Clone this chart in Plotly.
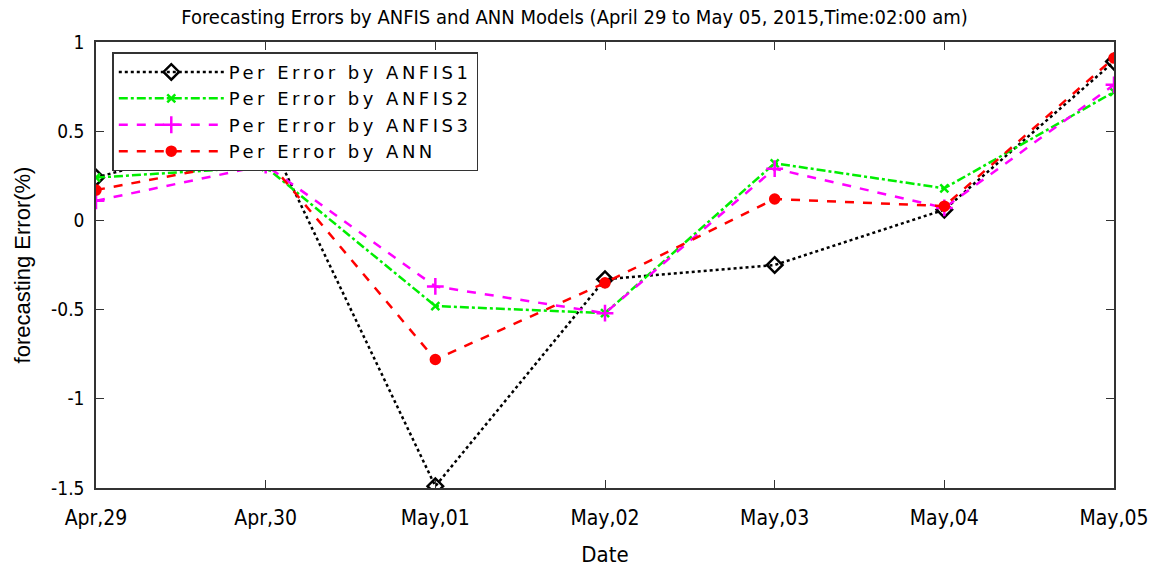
import plotly.graph_objects as go

dates = ["Apr,29", "Apr,30", "May,01", "May,02", "May,03", "May,04", "May,05"]
anfis1 = [0.24, 0.50, -1.49, -0.33, -0.25, 0.06, 0.89]
anfis2 = [0.24, 0.30, -0.48, -0.52, 0.32, 0.18, 0.72]
anfis3 = [0.11, 0.31, -0.37, -0.52, 0.29, 0.07, 0.76]
ann = [0.17, 0.35, -0.78, -0.35, 0.12, 0.08, 0.91]
names = ["Per Error by ANFIS1", "Per Error by ANFIS2", "Per Error by ANFIS3", "Per Error by ANN"]
yticks = [1, 0.5, 0, -0.5, -1, -1.5]
ytick_text = ["1", "0.5", "0", "-0.5", "-1", "-1.5"]

cond = "DejaVu Sans Condensed, Liberation Sans, Arial, sans-serif"
sans = "Liberation Sans, Arial, sans-serif"

x = list(range(len(dates)))
fig = go.Figure()
styles = [
    ("black", "dot", "diamond-open", 12),
    ("#00ee00", "dashdot", "x-thin-open", 8),
    ("#ff00ff", "dash", "cross-thin-open", 12),
    ("#ff0000", "dash", "circle", 9),
]
for name, vals, (col, dash, sym, sz) in zip(names, [anfis1, anfis2, anfis3, ann], styles):
    fig.add_trace(go.Scatter(
        x=x, y=vals, mode="lines+markers",
        name='<span style="letter-spacing:3.5px">' + name + '</span>',
        line=dict(color=col, dash=dash, width=2.5),
        marker=dict(symbol=sym, size=sz, color=col,
                    line=dict(color=col, width=2.5)),
    ))

fig.update_layout(
    width=1149, height=567,
    margin=dict(l=96, r=35, t=42, b=79),
    paper_bgcolor="white", plot_bgcolor="white",
    title=dict(text="Forecasting Errors by ANFIS and ANN Models (April 29 to May 05, 2015,Time:02:00 am)",
               x=0.5, xanchor="center", y=0.983, yanchor="top", automargin=False,
               font=dict(family=cond, size=20, color="black")),
    showlegend=True,
    legend=dict(x=0.016, y=0.977, xanchor="left", yanchor="top",
                bgcolor="white", bordercolor="#333", borderwidth=1.5,
                font=dict(family="DejaVu Sans, Liberation Sans, sans-serif", size=18, color="black"),
                tracegroupgap=0, itemwidth=105),
    xaxis=dict(tickmode="array", tickvals=x, ticktext=dates,
               range=[0, 6], showgrid=False, zeroline=False, automargin=False,
               showline=True, linecolor="#333", linewidth=1.5, mirror="ticks",
               ticks="inside", ticklen=8, tickcolor="#333", ticklabelstandoff=10,
               tickfont=dict(family=cond, size=21, color="black"),
               title=dict(text="Date", font=dict(family=cond, size=22, color="black"), standoff=23)),
    yaxis=dict(tickmode="array", tickvals=yticks, ticktext=ytick_text,
               range=[-1.5, 1], showgrid=False, zeroline=False, automargin=False,
               showline=True, linecolor="#333", linewidth=1.5, mirror="ticks",
               ticks="inside", ticklen=8, tickcolor="#333", ticklabelstandoff=6,
               tickfont=dict(family=cond, size=19, color="black"),
               title=dict(text="forecasting Error(%)", font=dict(family=sans, size=22, color="black"), standoff=14)),
)
fig.write_html("out.html")
